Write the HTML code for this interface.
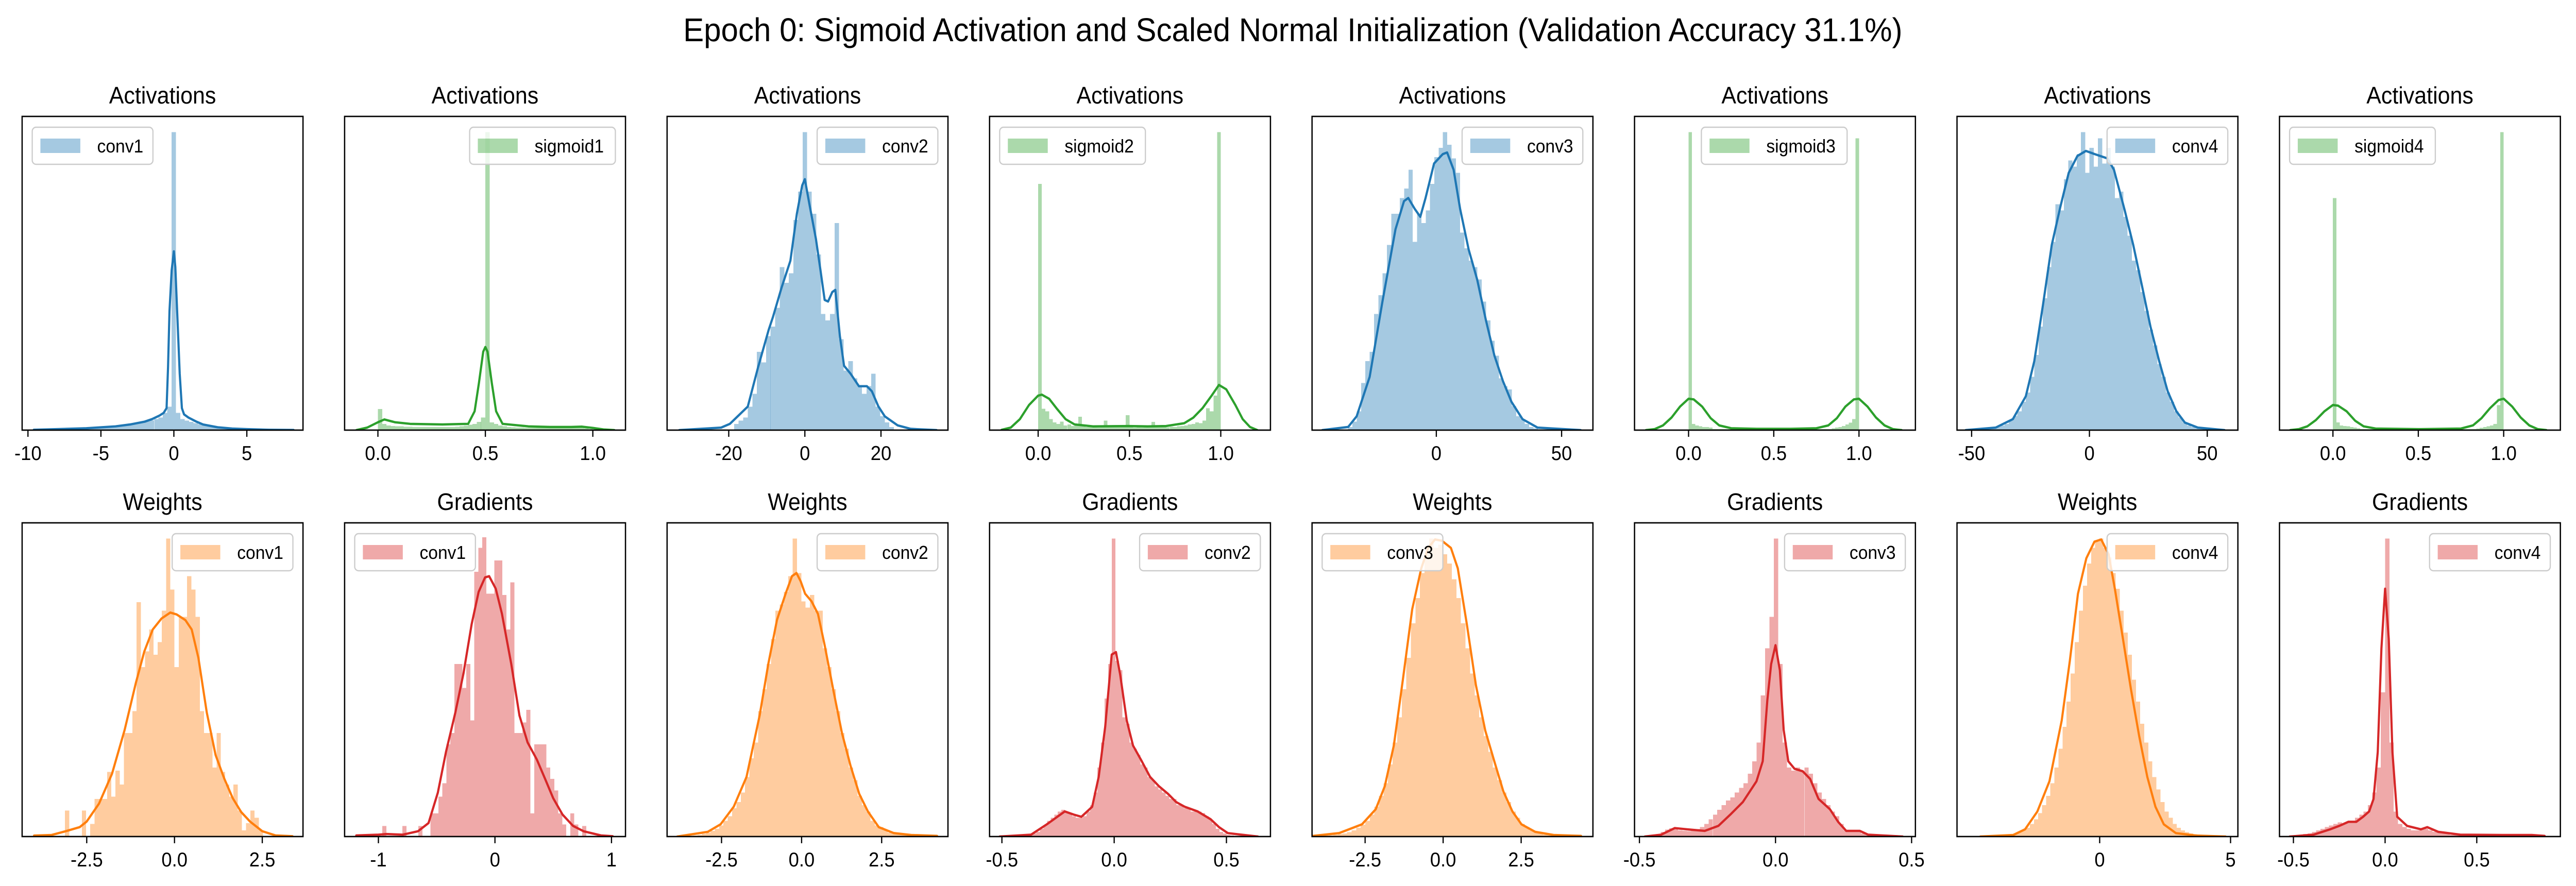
<!DOCTYPE html>
<html><head><meta charset="utf-8"><style>
html,body{margin:0;padding:0;background:#fff;overflow:hidden;}
svg{display:block;font-family:"Liberation Sans",sans-serif;width:100vw;height:100vh;}
</style></head><body>
<svg id="fig" width="5356" height="1720" viewBox="0 0 5356 1720" preserveAspectRatio="none" xmlns="http://www.w3.org/2000/svg">
<rect x="0" y="0" width="5356" height="1720" fill="#fff"/>
<text x="2688" y="80" font-size="64" text-anchor="middle" textLength="2535" lengthAdjust="spacingAndGlyphs">Epoch 0: Sigmoid Activation and Scaled Normal Initialization (Validation Accuracy 31.1%)</text>
</svg>
<script>
const titles=["Activations","Activations","Activations","Activations","Activations","Activations","Activations","Activations","Weights","Gradients","Weights","Gradients","Weights","Gradients","Weights","Gradients"];
const labels=["conv1","sigmoid1","conv2","sigmoid2","conv3","sigmoid3","conv4","sigmoid4","conv1","conv1","conv2","conv2","conv3","conv3","conv4","conv4"];
const colorKeys=["blue","green","blue","green","blue","green","blue","green","orange","red","orange","red","orange","red","orange","red"];
const xLo=[-10.4,-0.155,-36.2,-0.266,-49.6,-0.317,-56.2,-0.313,-4.34,-1.29,-4.2,-0.555,-4.2,-0.518,-5.45,-0.576];
const xHi=[8.85,1.152,37.6,1.272,62.5,1.331,63,1.332,3.66,1.12,4.57,0.696,4.8,0.514,5.28,0.956];
const tickVals=[[-10,-5,0,5],[0,0.5,1],[-20,0,20],[0,0.5,1],[0,50],[0,0.5,1],[-50,0,50],[0,0.5,1],[-2.5,0,2.5],[-1,0,1],[-2.5,0,2.5],[-0.5,0,0.5],[-2.5,0,2.5],[-0.5,0,0.5],[0,5],[-0.5,0,0.5]];
const tickLabels=[["-10","-5","0","5"],["0.0","0.5","1.0"],["-20","0","20"],["0.0","0.5","1.0"],["0","50"],["0.0","0.5","1.0"],["-50","0","50"],["0.0","0.5","1.0"],["-2.5","0.0","2.5"],["-1","0","1"],["-2.5","0.0","2.5"],["-0.5","0.0","0.5"],["-2.5","0.0","2.5"],["-0.5","0.0","0.5"],["0","5"],["-0.5","0.0","0.5"]];
const legendLoc=["L","R","R","L","R",139,"R","L","R","L","R","R","L","R","R","R"];
const histLo=[-9.45,0,-18.6,0,-35.2,0,-45,0,-3.12,-1.0,-3.52,-0.459,-4.1,-0.486,-4.54,-0.517];
const histW=[0.3,0.02,1.2,0.02,1.72,0.02,1.8,0.02,0.12,0.0343,0.135,0.016,0.146,0.016,0.156,0.0235];
const histH=[
[0.2,0.2,0.2,0.3,0.3,0.3,0.4,0.4,0.4,0.5,0.5,0.6,0.7,0.8,0.9,1.0,1.1,1.2,1.3,1.4,1.6,1.8,2.0,2.2,2.5,2.8,3.1,3.5,4.0,5.5,7.5,95,5.5,3.5,3.0,2.6,2.2,1.9,1.6,1.3,1.1,0.9,0.8,0.7,0.6,0.5,0.4,0.4,0.3,0.3,0.2,0.2,0.2,0.2,0.1,0.1,0.1,0.1,0.1],
[6.7,2.0,1.5,1.3,1.2,1.2,1.1,1.1,1.0,1.0,1.0,1.0,1.0,1.0,1.0,1.0,1.0,1.0,1.1,1.2,1.4,1.7,2.0,2.6,4.0,95,2.5,2.0,1.5,1.2,1.0,0.9,0.8,0.8,0.7,0.7,0.7,0.7,0.7,0.7,0.7,0.7,0.7,0.8,0.8,0.9,0.9,0.8,0.6,0.3],
[2,3,4,7.5,11.6,25,21.6,30,33,39,52,47,50,67,76,95,76,69,56,37,35,37,66,29,19,22,16.5,14,11.6,14,18,7.5,4.4,2.5,1],
[78.5,6.8,6.0,3.5,2.5,2.0,2.7,1.5,1.8,1.3,1.4,4.3,1.5,1.0,1.2,1.0,0.8,1.0,3.0,1.0,0.9,1.0,0.9,1.0,4.8,1.0,0.8,0.9,0.8,0.9,1.0,2.6,1.0,0.9,1.0,0.9,1.1,1.0,1.2,1.3,1.5,1.8,2.0,2.5,2.2,3.0,7.0,6.0,11,95],
[1,2.7,6,15,22,25,37,43,50,59,69,69,74,77,83,60,69,66,70,78.5,87,90,95,91,86.6,82,63,58,54,52,48,41,35,28.5,23.7,16.5,14,13,7.6,4.4,3.5,2,1,0.6],
[95,2.0,1.5,1.2,1.0,1.0,0.8,0.3,0.3,0.3,0.3,0.3,0.3,0.3,0.3,0.3,0.3,0.3,0.3,0.3,0.3,0.3,0.3,0.3,0.3,0.3,0.3,0.3,0.3,0.3,0.3,0.3,0.3,0.3,0.3,0.3,0.3,0.3,0.3,0.3,0.3,0.3,0.6,0.8,1.0,1.3,1.8,2.4,3.5,93],
[0.3,0.4,0.6,1,1.5,2,3,4.5,6,9,12,17,24,33,42,52,60,72,70,80,86,84,88,95,82,90,84,93,85,90,84,74,76,68,62,54,51,44,38,32,27,21,17,12,9,6,4,2.5,1.5,1,0.6,0.4,0.2,0.1],
[74,2.5,1.5,1.3,1.2,1.0,0.8,0.6,0.3,0.3,0.3,0.3,0.3,0.3,0.3,0.3,0.3,0.3,0.3,0.3,0.3,0.3,0.3,0.3,0.3,0.3,0.3,0.3,0.3,0.3,0.3,0.3,0.3,0.3,0.3,0.3,0.3,0.3,0.3,0.3,0.3,0.3,0.5,0.7,1.0,1.2,1.5,2.0,8,95],
[8.3,0,0,0,8.3,0,4,12,12,12,20.6,12.7,21,16.6,33,33,40,74.7,54,59,66,58,62,72,95,78.7,54,70,70,83,78.7,70,40,33,33,22,33,20.6,16.6,12.7,16.6,8.3,2,4.3,8.3,6,2],
[0,3.4,0,0,0,0,3.4,0,0,0,3.4,0,0,7.4,7.4,12.7,17,29.4,33,55,55,47.4,55,37,84.4,92,95.4,77.4,77.4,88,88,77,66,81,33,33,36.4,40.4,7.4,29.4,29.4,29.4,22,18.4,14.7,7.4,3.9,0,7.4,3.9,0,3.4],
[0.2,0.3,0.5,0.8,1.2,1.8,2.5,3.5,5,6.5,9,11,14,19,25,30,40,47,55,63,72,74,78,83,95,84,75,73,77,72,72,60,54,47,40,33,28,22,18,13,10,8,5,3.5,3,2,1.2,1.3,0.8,0.5,0.3,0.2],
[0.3,0.3,0.4,0.5,0.5,0.7,1,1.5,2.5,3.5,5,6,7,8,8.5,8,7.5,6.5,6,6,6.5,8,10,14,22,30,44,55,95,56,53,38,36,30,28,26,23,22,19,18,16,15,14,13,12,12,10,10,9,9,8,8,8,7.5,6.5,5.5,4,2.5,1.5,1,0.5,0.3,0.2],
[0.1,0.2,0.3,0.4,0.6,0.8,1,1.4,2,2.8,3.8,5,7,9.5,13,17,23,30,38,47,57,68,76,84,90,95,92,93,90,87,82,76,68,60,52,45,38,32,27,22,18,14,11,8,6,4,3,2,1.4,1,0.6,0.4,0.3,0.2,0.1],
[0.2,0.3,0.5,0.8,1.5,2.2,2.6,2.3,2,1.8,1.7,1.9,2.4,3,4,5.5,7,8.5,10,11.5,12.5,14,15.5,17,20,24,30,45,60,70,95,55,30,22,21,22,21,22,20,17,14,12,10,8,6.5,4,2,1.8,1.8,2,1,0.5,0.2],
[0.2,0.2,0.3,0.3,0.4,0.5,0.6,0.8,1,1.4,2,2.8,4,5.5,7.5,10,13,17,22,28,35,43,52,62,72,80,87,92,94,95,92,89,84,79,72,65,58,50,43,36,30,24,19,15,11,8,6,4,2.8,2,1.4,1,0.7,0.5,0.3,0.2,0.1],
[0.2,0.3,0.5,0.8,1,1.5,2,2.5,3,3.5,4,4.5,4,4.5,5,6,7,8,10,14,22,46,95,30,8,4,3,2.5,2,2,2.5,2.5,2,1.5,1.2,1,0.8,0.5,0.5,0.5,0.5,0.5,0.5,0.5,0.5,0.5,0.5,0.5,0.5,0.5,0.5,0.5,0.5,0.5,0.5,0.5,0.5,0.5,0.5]
];
const kdeX=[
[-9.6,-8,-6,-4,-3,-2,-1.5,-1,-0.7,-0.5,-0.4,-0.3,-0.15,-0.05,0,0.1,0.25,0.4,0.55,0.7,1,1.5,2,3,4,5,6.5,8.2],
[-0.1,-0.05,0,0.03,0.08,0.15,0.3,0.42,0.45,0.47,0.49,0.5,0.51,0.53,0.55,0.58,0.7,0.8,0.9,0.95,1.0,1.05,1.1],
[-33,-22,-19.7,-15,-12.3,-9.5,-8.4,-6.1,-3.8,-2.1,-0.7,0,1.2,2.9,4.1,5.2,6.1,7.2,8,9.2,10.3,12,14.2,16.3,17.6,19.3,21,24.4,27.8,34.6],
[-0.2,-0.15,-0.1,-0.05,0,0.02,0.06,0.1,0.15,0.2,0.3,0.5,0.6,0.7,0.8,0.85,0.9,0.95,0.99,1.03,1.08,1.12,1.16,1.2],
[-45.5,-35.2,-31.8,-26.6,-21.5,-16.3,-12.9,-11.2,-8.6,-6.4,-4.3,-0.9,2.6,4.3,6.9,9.5,12.9,16.3,19.8,23.2,26.6,30,34.4,40.4,57.6],
[-0.25,-0.2,-0.15,-0.1,-0.05,0,0.03,0.08,0.13,0.18,0.25,0.4,0.6,0.75,0.82,0.87,0.92,0.97,1.0,1.05,1.1,1.15,1.2,1.25],
[-52.5,-39.8,-32.5,-27,-23.4,-19.7,-16,-12.4,-8.8,-5.1,-1.5,2.2,7.7,10.4,15,18.6,22.3,25.9,29.6,33.2,36.9,40.5,46,57.3],
[-0.25,-0.2,-0.15,-0.1,-0.05,0,0.03,0.08,0.13,0.18,0.25,0.5,0.75,0.82,0.87,0.92,0.97,1.0,1.05,1.1,1.15,1.2,1.25],
[-4,-3.5,-3.1,-2.7,-2.5,-2.15,-1.78,-1.42,-1.1,-0.86,-0.62,-0.37,-0.12,0.06,0.31,0.49,0.68,0.92,1.17,1.42,1.66,1.9,2.15,2.5,2.88,3.36],
[-1.19,-1.0,-0.93,-0.79,-0.66,-0.57,-0.49,-0.42,-0.34,-0.27,-0.2,-0.14,-0.085,-0.05,0.007,0.06,0.14,0.21,0.28,0.36,0.43,0.5,0.58,0.67,0.76,0.91,1.01],
[-3.88,-2.93,-2.53,-2.12,-1.72,-1.31,-1.04,-0.77,-0.5,-0.3,-0.16,-0.03,0.11,0.31,0.51,0.72,0.99,1.26,1.53,1.8,2.07,2.41,2.88,3.42,4.23],
[-0.51,-0.37,-0.3,-0.22,-0.18,-0.146,-0.098,-0.069,-0.04,-0.011,0.008,0.027,0.056,0.084,0.123,0.16,0.2,0.24,0.276,0.314,0.372,0.43,0.467,0.506,0.64],
[-4.36,-3.33,-2.6,-2.16,-1.87,-1.58,-1.29,-0.99,-0.7,-0.48,-0.26,-0.04,0.25,0.47,0.76,1.05,1.35,1.64,1.93,2.22,2.51,2.95,3.54,4.42],
[-0.48,-0.42,-0.37,-0.325,-0.26,-0.21,-0.166,-0.12,-0.07,-0.047,-0.03,-0.016,0,0.016,0.03,0.047,0.07,0.1,0.127,0.158,0.2,0.23,0.26,0.31,0.34,0.467],
[-4.56,-3.3,-2.85,-2.38,-1.92,-1.45,-1.14,-0.83,-0.51,-0.2,0.06,0.34,0.58,0.89,1.2,1.51,1.82,2.13,2.45,2.91,3.69,4.81],
[-0.52,-0.39,-0.3,-0.25,-0.2,-0.157,-0.12,-0.087,-0.063,-0.04,-0.02,0,0.02,0.04,0.066,0.12,0.195,0.23,0.29,0.41,0.64,0.8,0.87]
];
const kdeY=[
[0.1,0.3,0.6,1.2,1.8,2.7,3.5,4.6,5.5,7,20,38,51,55,57,52,35,18,7,5,4,2.8,1.8,0.9,0.5,0.3,0.1,0.05],
[0,0.8,2.5,3.4,2.5,2.0,1.8,2,6,15,25,26.5,25,15,6,2,1.2,1.0,1.0,1.1,0.7,0.2,0],
[0,0.8,2,7.5,20,32,36,45.5,54,69,78,80,72,61,51,41.5,41,44,44.7,30,20.5,18,14,14,12.4,7.6,4.4,1.5,0.4,0],
[0.1,0.8,3.5,8,11,11.3,10,7,3.5,1.8,1.2,1.3,1.2,1.3,2.2,4,7,11,14.4,13,8,3.5,1,0],
[0,1,4.4,17,41,64,73,74,70.5,68,74,85,88,88.5,83,70.5,57.6,48,35,23.7,15.6,9,3.5,0.8,0],
[0,0.3,1.5,4,7.5,10,9.8,7.5,3.8,1.5,0.6,0.4,0.4,0.6,1.5,3.8,7.5,9.8,10,7.5,4,1.5,0.3,0],
[0,0.8,3.5,10.8,22,40,59,71,82,87.4,89,88,86.6,83,70,59,46,33,22,12.4,6,2.4,0.8,0],
[0,0.3,1.2,3.2,6,8,7.8,6,3,1.2,0.5,0.3,0.5,1.5,3.8,7,9.6,10,7.5,4,1.5,0.3,0],
[0.3,0.5,1.7,3,4.8,10.5,20,34,49,59,66,69.5,71.4,70.8,69,66,57,39.5,26,18.4,12.2,7.8,4.8,1.7,0.35,0.1],
[0.35,0.6,0.8,0.6,1.7,4.3,14,27,39.5,52,67.7,78,82.6,83,79,71,55,38.6,30,24.5,18.4,12.2,7,3.4,1.7,0.35,0.1],
[0,1.5,3.9,9.5,19,38.6,55,69,77.4,83,84,81.4,77.4,75,71,61,46.7,33,22.5,13.6,8,3,1.1,0.5,0.2],
[0,0.6,3.9,8,7,6.3,9.5,19,35,58,58.8,51.5,37,29,24,19,16,13.6,11,9.5,8,5.5,3,1.1,0],
[0,1.1,3.9,8.7,16,29,50,72.5,85.5,92,94.7,94.3,92,85.5,67.7,48.3,33.8,24,14.4,8,3.9,1.5,0.5,0.2],
[0,0.6,2.7,2.3,1.8,3.4,7,11,17.6,24,43.5,55,61,53,34,24,21.6,20.8,18.4,12,8.7,4.7,1.8,1.8,0.6,0],
[0,0.5,2.3,8,17.6,37,56,77.4,88.7,94,94.7,90,79,63,46.7,32,19,9.5,3.9,1.1,0.3,0],
[0,0.6,2.3,3.4,4.7,4.7,6.3,8,12,27,60,79,63,27,6.3,3.4,2.3,3,1.5,0.6,0.5,0.5,0.2]
];

const palette={blue:"#1f77b4",green:"#2ca02c",orange:"#ff7f0e",red:"#d62728"};
const L0=46, STEP=670.5, PW=584;
const rowTop=[226,1015], rowBottom=[835,1624];
const NS="http://www.w3.org/2000/svg";
const svg=document.getElementById("fig");
function xs(p,v){const c=p%8;return L0+STEP*c+(v-xLo[p])/(xHi[p]-xLo[p])*PW;}
function ys(p,h){const r=p<8?0:1;return rowBottom[r]-h/100*(rowBottom[r]-rowTop[r]);}
function mk(tag,attrs,parent){const e=document.createElementNS(NS,tag);for(const k in attrs)e.setAttribute(k,attrs[k]);(parent||svg).appendChild(e);return e;}

for(let p=0;p<16;p++){
  const r=p<8?0:1, c=p%8;
  const left=L0+STEP*c, right=left+PW, top=rowTop[r], bot=rowBottom[r];
  const col=palette[colorKeys[p]];
  const g=mk("g",{});
  
  
  const clipId="clip"+p;
  const cp=mk("clipPath",{id:clipId},g);
  mk("rect",{x:left,y:top,width:PW,height:bot-top},cp);
  const hg=mk("g",{"clip-path":"url(#"+clipId+")",fill:col,"fill-opacity":"0.4","shape-rendering":"crispEdges"},g);
  
  
  const H=histH[p];
  for(let i=0;i<H.length;i++){
    if(H[i]<=0)continue;
    const x0=xs(p,histLo[p]+histW[p]*i), x1=xs(p,histLo[p]+histW[p]*(i+1));
    const y0=ys(p,H[i]);
    const b=mk("rect",{x:x0.toFixed(2),y:y0.toFixed(2),width:Math.max(0.5,x1-x0).toFixed(2),height:(bot-y0).toFixed(2)},hg);
    
    
  }
  let d="";
  for(let i=0;i<kdeX[p].length;i++){d+=(i?"L":"M")+xs(p,kdeX[p][i]).toFixed(2)+","+ys(p,kdeY[p][i]).toFixed(2);}
  const kl=mk("path",{d:d,fill:"none",stroke:col,"stroke-width":"4.5","stroke-linejoin":"round","stroke-linecap":"round","clip-path":"url(#"+clipId+")"},g);
  
  
  const fr=mk("rect",{x:left,y:top,width:PW,height:bot-top,fill:"none",stroke:"#000","stroke-width":"2.7"},g);
  
  
  for(let i=0;i<tickVals[p].length;i++){
    const tx=xs(p,tickVals[p][i]);
    const tk=mk("line",{x1:tx,y1:bot,x2:tx,y2:bot+13,stroke:"#000","stroke-width":"2.5"},g);
    
    
    const tl=mk("text",{x:tx,y:bot+58,"font-size":"39","text-anchor":"middle"},g);
    
    
    tl.textContent=tickLabels[p][i];
  }
  const tt=mk("text",{x:left+PW/2,y:top-25,"font-size":"46","text-anchor":"middle"},g);
  
  
  tt.textContent=titles[p];
  const lw=labels[p].startsWith("sigmoid")?303:251;
  const loc=legendLoc[p];
  const lx=loc==="L"?left+21:(loc==="R"?right-21-lw:left+loc);
  const ly=top+21;
  const lg=mk("g",{},g);
  
  
  mk("rect",{x:lx,y:ly,width:lw,height:72,rx:8,ry:8,fill:"#fff","fill-opacity":"0.8",stroke:"#cccccc","stroke-width":"2.5"},lg);
  const sw=mk("rect",{x:lx+17,y:ly+22,width:83,height:28,fill:col,"fill-opacity":"0.4"},lg);
  
  
  const lt=mk("text",{x:lx+135,y:ly+49,"font-size":"36"},lg);
  
  
  lt.textContent=labels[p];
}
</script>
</body></html>
